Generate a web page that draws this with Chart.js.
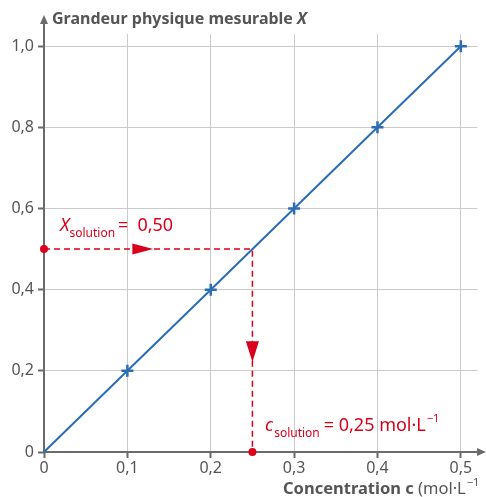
<!DOCTYPE html>
<html>
<head>
<meta charset="utf-8">
<script src="https://cdn.jsdelivr.net/npm/chart.js@4"></script>
<style>
  html, body { margin: 0; padding: 0; background: #fff; }
  #wrap { width: 486px; height: 497px; }
</style>
</head>
<body>
<div id="wrap"><canvas id="chart"></canvas></div>
<script>
// DATA
const concentrations = [0, 0.1, 0.2, 0.3, 0.4, 0.5];
const grandeurX = [0, 0.2, 0.4, 0.6, 0.8, 1.0];
const xTicks = [0, 0.1, 0.2, 0.3, 0.4, 0.5];
const xTickLabels = ["0", "0,1", "0,2", "0,3", "0,4", "0,5"];
const yTicks = [0, 0.2, 0.4, 0.6, 0.8, 1.0];
const yTickLabels = ["0", "0,2", "0,4", "0,6", "0,8", "1,0"];
const cSolution = 0.25;
const xSolution = 0.5;

const BLUE = "#2a6db5";
const RED = "#d9001b";
const AXIS = "#6a6a6a";
const GRID = "#cbcbcb";
const TEXT = "#555555";
const FONT = "'Noto Sans', 'Open Sans', sans-serif";

// axes with arrows, drawn over the grid
const axesPlugin = {
  id: "axes",
  beforeDatasetsDraw(chart) {
    const ctx = chart.ctx;
    const x = chart.scales.x, y = chart.scales.y;
    const x0 = x.getPixelForValue(0), y0 = y.getPixelForValue(0);
    ctx.save();
    ctx.strokeStyle = AXIS;
    ctx.fillStyle = AXIS;
    ctx.lineWidth = 2;
    ctx.beginPath();
    ctx.moveTo(x0, y0 + 1);
    ctx.lineTo(x0, 22);
    ctx.moveTo(x0 - 1, y0);
    ctx.lineTo(chart.width - 6, y0);
    ctx.stroke();
    // arrow heads
    ctx.beginPath();
    ctx.moveTo(x0, 15);
    ctx.lineTo(x0 - 4, 24);
    ctx.lineTo(x0 + 4, 24);
    ctx.closePath();
    ctx.fill();
    ctx.beginPath();
    ctx.moveTo(chart.width, y0);
    ctx.lineTo(chart.width - 9, y0 - 4);
    ctx.lineTo(chart.width - 9, y0 + 4);
    ctx.closePath();
    ctx.fill();
    ctx.restore();
  }
};

// red arrow heads and labels
const notesPlugin = {
  id: "notes",
  afterDatasetsDraw(chart) {
    const ctx = chart.ctx;
    const x = chart.scales.x, y = chart.scales.y;
    ctx.save();
    ctx.fillStyle = RED;
    // horizontal arrow (pointing right)
    const hy = y.getPixelForValue(xSolution);
    const hx1 = x.getPixelForValue(0.106), hx2 = x.getPixelForValue(0.131);
    ctx.beginPath();
    ctx.moveTo(hx2, hy);
    ctx.lineTo(hx1, hy - 5.5);
    ctx.lineTo(hx1, hy + 5.5);
    ctx.closePath();
    ctx.fill();
    // vertical arrow (pointing down)
    const vx = x.getPixelForValue(cSolution);
    const vy1 = y.getPixelForValue(0.273), vy2 = y.getPixelForValue(0.222);
    ctx.beginPath();
    ctx.moveTo(vx, vy2);
    ctx.lineTo(vx - 6.5, vy1);
    ctx.lineTo(vx + 6.5, vy1);
    ctx.closePath();
    ctx.fill();

    // X_solution = 0,50
    ctx.textBaseline = "alphabetic";
    ctx.textAlign = "left";
    let px = 60, by = 231;
    ctx.font = "italic 18px " + FONT;
    ctx.fillText("X", px, by);
    px += ctx.measureText("X").width;
    ctx.font = "12px " + FONT;
    ctx.fillText("solution", px, by + 6);
    px += ctx.measureText("solution").width + 3;
    ctx.font = "18px " + FONT;
    ctx.fillText("=", px, by);
    px += ctx.measureText("=").width + 9;
    ctx.fillText("0,50", px, by);

    // c_solution = 0,25 mol·L-1
    px = 265; by = 431;
    ctx.font = "italic 18px " + FONT;
    ctx.fillText("c", px, by);
    px += ctx.measureText("c").width + 1;
    ctx.font = "12px " + FONT;
    ctx.fillText("solution", px, by + 6);
    px += ctx.measureText("solution").width + 4;
    ctx.font = "18px " + FONT;
    const t = "= 0,25 mol·L";
    ctx.fillText(t, px, by);
    px += ctx.measureText(t).width + 1;
    ctx.font = "11px " + FONT;
    ctx.fillText("\u22121", px, by - 9);

    // axis titles
    ctx.fillStyle = TEXT;
    px = 52; by = 24;
    ctx.font = "bold 16px " + FONT;
    const yt = "Grandeur physique mesurable ";
    ctx.fillText(yt, px, by);
    px += ctx.measureText(yt).width;
    ctx.font = "italic bold 16px " + FONT;
    ctx.fillText("X", px, by);

    px = 283; by = 494;
    ctx.font = "bold 16.5px " + FONT;
    const xt = "Concentration c ";
    ctx.fillText(xt, px, by);
    px += ctx.measureText(xt).width;
    ctx.font = "16.5px " + FONT;
    ctx.fillText("(mol·L", px, by);
    px += ctx.measureText("(mol·L").width + 1;
    ctx.font = "11px " + FONT;
    ctx.fillText("\u22121", px, by - 8);
    ctx.restore();
  }
};

new Chart(document.getElementById("chart"), {
  type: "scatter",
  data: {
    datasets: [
      {
        label: "Étalonnage",
        data: concentrations.map((c, i) => ({ x: c, y: grandeurX[i] })),
        showLine: true,
        borderColor: BLUE,
        backgroundColor: BLUE,
        borderWidth: 2,
        pointStyle: "cross",
        pointRadius: concentrations.map((c) => (c === 0 ? 0 : 6)),
        pointBorderWidth: 2.5,
        pointBorderColor: BLUE,
        clip: false,
        order: 2
      },
      {
        label: "Lecture",
        data: [
          { x: 0, y: xSolution },
          { x: cSolution, y: xSolution },
          { x: cSolution, y: 0 }
        ],
        showLine: true,
        borderColor: RED,
        backgroundColor: RED,
        borderWidth: 1.5,
        borderDash: [6, 4],
        pointRadius: [4, 0, 4],
        pointBorderWidth: 0,
        clip: false,
        order: 1
      }
    ]
  },
  options: {
    responsive: true,
    maintainAspectRatio: false,
    animation: false,
    layout: { padding: { top: 34, right: 8, left: 0, bottom: 0 } },
    plugins: { legend: { display: false }, tooltip: { enabled: false } },
    scales: {
      x: {
        type: "linear",
        min: 0,
        max: 0.52,
        afterBuildTicks: (s) => { s.ticks = xTicks.map((v) => ({ value: v })); },
        afterFit: (s) => { s.height = 45; },
        border: { display: false },
        grid: { color: GRID, lineWidth: 1, tickLength: 6, tickColor: AXIS, tickWidth: 2 },
        ticks: {
          color: TEXT,
          font: { family: FONT, size: 16 },
          padding: 1,
          maxRotation: 0,
          autoSkip: false,
          callback: (v) => xTickLabels[xTicks.indexOf(v)]
        }
      },
      y: {
        type: "linear",
        min: 0,
        max: 1.03,
        afterBuildTicks: (s) => { s.ticks = yTicks.map((v) => ({ value: v })); },
        afterFit: (s) => { s.width = 44; },
        border: { display: false },
        grid: { color: GRID, lineWidth: 1, tickLength: 6, tickColor: AXIS, tickWidth: 2 },
        ticks: {
          color: TEXT,
          font: { family: FONT, size: 16 },
          padding: 4,
          autoSkip: false,
          callback: (v) => yTickLabels[yTicks.indexOf(v)]
        }
      }
    }
  },
  plugins: [axesPlugin, notesPlugin]
});
</script>
</body>
</html>
